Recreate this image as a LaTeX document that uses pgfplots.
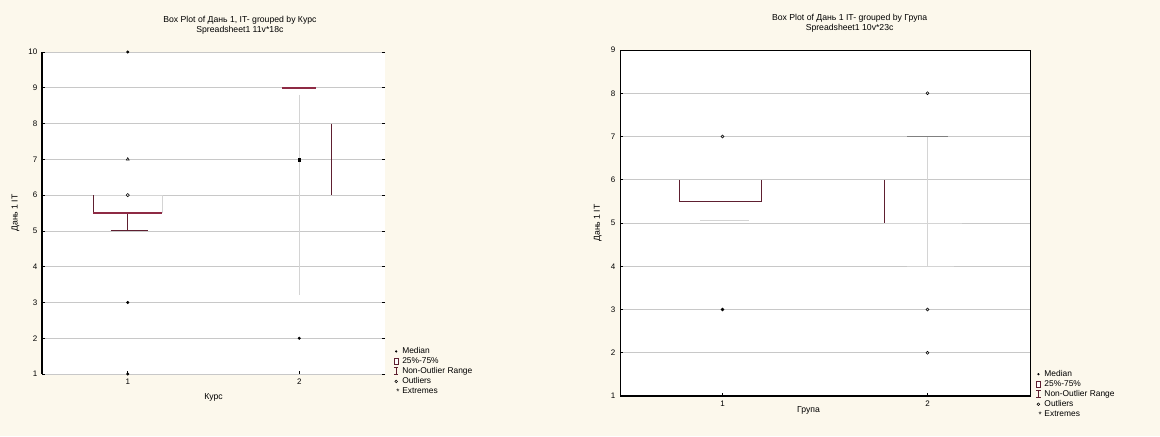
\documentclass[border=0pt]{standalone}
\usepackage{pgfplots}
\pgfplotsset{compat=1.18}
\usepackage{fontspec}
\setmainfont{Liberation Sans}
\definecolor{cream}{HTML}{FCF8EC}
\definecolor{boxred}{HTML}{5E1F30}
\definecolor{medred}{HTML}{8E2A44}
\definecolor{gridg}{HTML}{C8C8C8}
\definecolor{faint}{HTML}{D4D4D4}
\pgfplotsset{
  statbox/.style={
    scale only axis,
    clip=false,
    xmin=0.5, xmax=2.5,
    xtick={1,2}, xticklabels={1,2},
    ymajorgrids, grid style={gridg, line width=0.5pt},
    axis background/.style={fill=white},
    tick style={black, line width=0.5pt},
    major tick length=2pt,
    ticklabel style={font=\fontsize{6}{7}\selectfont},
    /pgf/number format/assume math mode=true,
    label style={font=\fontsize{6.5}{7.5}\selectfont},
    title style={font=\fontsize{6.5}{7.5}\selectfont, align=center, yshift=4pt},
    legend cell align=left,
    legend style={draw=none, fill=none, font=\fontsize{6.3}{6.8}\selectfont,
      row sep=-2.5pt, inner sep=1pt},
  },
  whiskleg/.style={legend image code/.code={
    \draw[boxred, line width=0.7pt] (0.1cm,-0.09cm) -- (0.1cm,0.09cm);
    \draw[boxred, line width=0.7pt] (0.04cm,-0.09cm) -- (0.16cm,-0.09cm);
    \draw[boxred, line width=0.7pt] (0.04cm,0.09cm) -- (0.16cm,0.09cm);}},
  boxleg/.style={legend image code/.code={
    \draw[boxred, line width=0.6pt, fill=white] (0.04cm,-0.08cm) rectangle (0.16cm,0.08cm);}},
  medleg/.style={legend image code/.code={
    \fill[black] (0.1cm,0cm) circle (0.6pt);}},
  outleg/.style={legend image code/.code={
    \draw[black, line width=0.4pt] (0.1cm,0cm) circle (1pt);}},
  extleg/.style={legend image code/.code={
    \node[black, inner sep=0pt, font=\fontsize{6}{6}\selectfont] at (0.1cm,-0.03cm) {*};}},
}
\begin{document}
\begin{tikzpicture}
\fill[cream] (0,0) rectangle (870pt,327pt);
\path[use as bounding box] (0,0) rectangle (870pt,327pt);

% ---------------- left chart ----------------
\begin{axis}[statbox,
  at={(31.5pt,46.5pt)}, anchor=south west,
  width=257.25pt, height=241.5pt,
  ymin=1, ymax=10, ytick={1,2,...,10},
  axis line style={draw=none},
  ytick pos=both, xtick pos=bottom,
  title={Box Plot of Дань 1, IT- grouped by Курс\\Spreadsheet1 11v*18c},
  title style={at={(0.577,1)}, anchor=south},
  xlabel={Курс}, ylabel={Дань 1 IT},
  legend style={at={(1.02,0.096)}, anchor=north west},
]
\draw[black, line width=1.2pt] (rel axis cs:0,0) -- (rel axis cs:0,1);
\addlegendimage{medleg}\addlegendentry{Median}
\addlegendimage{boxleg}\addlegendentry{25\%-75\%}
\addlegendimage{whiskleg}\addlegendentry{Non-Outlier Range}
\addlegendimage{outleg}\addlegendentry{Outliers}
\addlegendimage{extleg}\addlegendentry{Extremes}
% group 1 box (5.5 -- 6), median 5.5, whisker to 5
\addplot[forget plot, faint, line width=0.6pt] coordinates {(0.8,6) (1.2,6) (1.2,5.5)};
\addplot[forget plot, boxred, line width=0.9pt] coordinates {(0.8,6) (0.8,5.5)};
\addplot[forget plot, boxred, line width=0.9pt] coordinates {(1,5.5) (1,5)};
\addplot[forget plot, boxred, line width=0.9pt] coordinates {(0.9,5) (1.12,5)};
\addplot[forget plot, medred, line width=1.1pt] coordinates {(0.8,5.5) (1.2,5.5)};
% group 2
\addplot[forget plot, faint, line width=0.6pt] coordinates {(2,8.8) (2,3.2)};
\addplot[forget plot, boxred, line width=0.9pt] coordinates {(2.19,8) (2.19,6)};
\addplot[forget plot, medred, line width=1.4pt] coordinates {(1.9,9) (2.1,9)};
% outliers
\addplot[forget plot, only marks, mark=triangle, mark size=1.3pt, black, line width=0.4pt]
  coordinates {(1,7)};
\addplot[forget plot, only marks, mark=o, mark size=1.3pt, black, line width=0.4pt]
  coordinates {(1,6)};
\addplot[forget plot, only marks, mark=square*, mark size=1.1pt, black]
  coordinates {(2,7)};
% extremes
\addplot[forget plot, only marks, mark=*, mark size=0.9pt, black]
  coordinates {(1,10) (1,3) (1,1) (2,2)};
\end{axis}

% ---------------- right chart ----------------
\begin{axis}[statbox,
  at={(465pt,30pt)}, anchor=south west,
  width=307.5pt, height=259.5pt,
  ymin=1, ymax=9, ytick={1,2,...,9},
  axis line style={black, line width=0.6pt},
  ytick pos=left, xtick pos=bottom,
  title={Box Plot of Дань 1 IT- grouped by Група\\Spreadsheet1 10v*23c},
  title style={at={(0.56,1)}, anchor=south},
  xlabel={Група}, ylabel={Дань 1 IT},
  xlabel style={at={(0.46,0)}, yshift=-4pt},
  legend style={at={(1.01,0.087)}, anchor=north west},
]
\draw[black, line width=1.4pt] (rel axis cs:0,0) -- (rel axis cs:1,0);
\addlegendimage{medleg}\addlegendentry{Median}
\addlegendimage{boxleg}\addlegendentry{25\%-75\%}
\addlegendimage{whiskleg}\addlegendentry{Non-Outlier Range}
\addlegendimage{outleg}\addlegendentry{Outliers}
\addlegendimage{extleg}\addlegendentry{Extremes}
% group 1 box (5.5 -- 6)
\addplot[forget plot, boxred, line width=0.9pt] coordinates {(0.79,6) (0.79,5.5) (1.19,5.5) (1.19,6)};
\addplot[forget plot, faint, line width=0.8pt] coordinates {(0.89,5.05) (1.13,5.05)};
% group 2
\addplot[forget plot, boxred, line width=1.1pt] coordinates {(1.79,6) (1.79,5)};
\addplot[forget plot, faint, line width=0.6pt] coordinates {(1.79,5) (2.17,5)};
\addplot[forget plot, faint, line width=0.6pt] coordinates {(2,7) (2,4)};
\addplot[forget plot, faint, line width=0.6pt] coordinates {(1.9,4) (2.13,4)};
\addplot[forget plot, gray, line width=0.9pt] coordinates {(1.9,7) (2.1,7)};
% outliers
\addplot[forget plot, only marks, mark=o, mark size=1.2pt, black, line width=0.4pt]
  coordinates {(1,7) (2,8) (2,3) (2,2)};
% extremes
\addplot[forget plot, only marks, mark=*, mark size=1.1pt, black]
  coordinates {(1,3)};
\end{axis}
\end{tikzpicture}
\end{document}
